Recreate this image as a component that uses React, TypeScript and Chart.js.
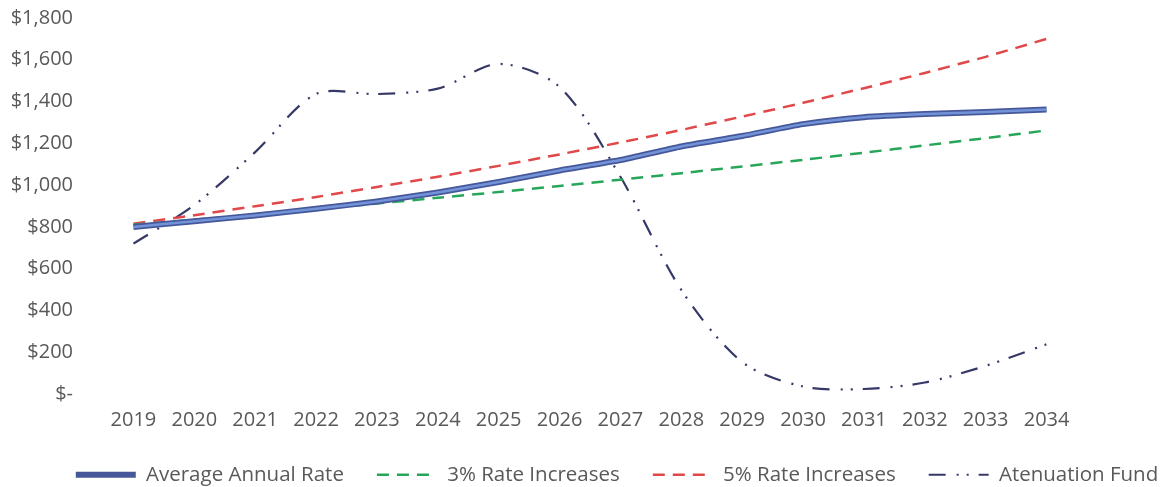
import React, { useEffect, useRef } from "react";
import { Chart, registerables } from "chart.js";

Chart.register(...registerables);

const years = ["2019","2020","2021","2022","2023","2024","2025","2026","2027","2028","2029","2030","2031","2032","2033","2034"];
const averageAnnualRate = [800, 827, 855, 887, 922, 965, 1015, 1070, 1120, 1185, 1235, 1292, 1325, 1340, 1350, 1362];
const rate3 = [810, 834, 859, 885, 912, 939, 967, 996, 1026, 1057, 1089, 1121, 1155, 1190, 1225, 1262];
const rate5 = [815, 856, 899, 943, 991, 1040, 1092, 1147, 1204, 1264, 1328, 1394, 1464, 1537, 1614, 1700];
const atenuationFund = [720, 905, 1158, 1436, 1436, 1462, 1580, 1470, 1040, 498, 153, 36, 24, 55, 135, 238];
const yTicks = [0, 200, 400, 600, 800, 1000, 1200, 1400, 1600, 1800];

const FONT = "'Open Sans', sans-serif";
const TEXT = "#595959";

export default function App() {
  const ref = useRef<HTMLCanvasElement>(null);
  useEffect(() => {
    const chart = new Chart(ref.current!, {
      type: "line",
      data: {
        labels: years,
        datasets: [
          { label: "Average Annual Rate", data: averageAnnualRate, borderColor: "#46589a", borderWidth: 6, tension: 0.2, pointRadius: 0, order: 2 },
          { label: "_inner", data: averageAnnualRate, borderColor: "#7393d8", borderWidth: 2.5, tension: 0.2, pointRadius: 0, order: 1 },
          { label: "3% Rate Increases", data: rate3, borderColor: "#27a65a", borderWidth: 2.5, borderDash: [12, 8], tension: 0.1, pointRadius: 0, order: 3 },
          { label: "5% Rate Increases", data: rate5, borderColor: "#e0484a", borderWidth: 2.5, borderDash: [12, 8], tension: 0.1, pointRadius: 0, order: 3 },
          { label: "Atenuation Fund", data: atenuationFund, borderColor: "#363868", borderWidth: 2.2, borderDash: [17, 11, 2, 8, 2, 10], tension: 0.3, pointRadius: 0, order: 4 },
        ],
      },
      options: {
        animation: false,
        responsive: true,
        maintainAspectRatio: false,
        layout: { padding: { top: 18, right: 0, left: 0, bottom: 0 } },
        scales: {
          x: {
            offset: true,
            grid: { display: false, drawTicks: false },
            border: { display: false },
            ticks: { color: TEXT, font: { family: FONT, size: 20 }, maxRotation: 0, autoSkip: false, padding: 14 },
            afterFit: (axis: any) => { axis.height = 37.5; },
          },
          y: {
            min: 0,
            max: 1800,
            afterBuildTicks: (axis: any) => { axis.ticks = yTicks.map((v) => ({ value: v })); },
            grid: { display: true, drawOnChartArea: false, drawTicks: true, tickLength: 26, color: "rgba(0,0,0,0)" },
            border: { display: false },
            ticks: {
              color: TEXT,
              font: { family: FONT, size: 20 },
              padding: 4,
              callback: (v: any) => (Number(v) === 0 ? "$-" : "$" + Number(v).toLocaleString("en-US")),
            },
            afterFit: (axis: any) => { axis.width = 103; },
          },
          yRight: {
            position: "right",
            display: true,
            grid: { display: false, drawTicks: false },
            border: { display: false },
            ticks: { display: false },
            afterFit: (axis: any) => { axis.width = 157; },
          },
        },
        plugins: {
          tooltip: { enabled: false },
          legend: {
            position: "bottom",
            labels: {
              color: TEXT,
              font: { family: FONT, size: 20.5 },
              usePointStyle: true,
              pointStyle: "line",
              pointStyleWidth: 60,
              boxHeight: 10,
              padding: 33,
              generateLabels: (c: any) => {
                const items = Chart.defaults.plugins.legend.labels.generateLabels(c);
                return items
                  .filter((i: any) => i.text !== "_inner")
                  .map((i: any) => {
                    const ds: any = c.data.datasets[i.datasetIndex];
                    return { ...i, lineDash: ds.borderDash || [], lineWidth: ds.borderWidth, strokeStyle: ds.borderColor, fontColor: TEXT };
                  });
              },
            },
          },
        },
      },
    });
    return () => chart.destroy();
  }, []);
  return (
    <div style={{ position: "fixed", left: 0, top: 0, width: 1234, height: 495, background: "#fff" }}>
      <canvas ref={ref} />
    </div>
  );
}
